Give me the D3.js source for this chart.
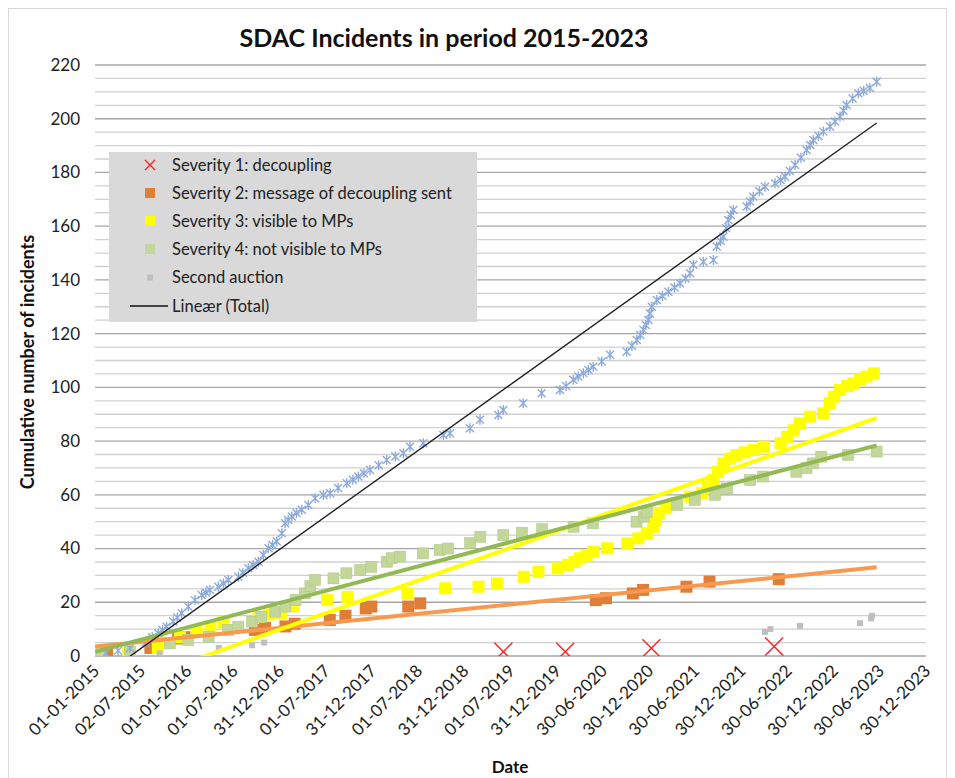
<!DOCTYPE html>
<html><head><meta charset="utf-8">
<script src="https://cdn.jsdelivr.net/npm/d3@7"></script>
<style>body{margin:0;background:#fff;} text{font-family:Lato,"Open Sans",sans-serif;}</style>
</head><body><svg id="c" width="955" height="778"></svg>
<script>
const title = "SDAC Incidents in period 2015-2023";
const yTitle = "Cumulative number of incidents";
const xTitle = "Date";
const xTickLabels = ["01-01-2015","02-07-2015","01-01-2016","01-07-2016","31-12-2016","01-07-2017","31-12-2017","01-07-2018","31-12-2018","01-07-2019","31-12-2019","30-06-2020","30-12-2020","30-06-2021","30-12-2021","30-06-2022","30-12-2022","30-06-2023","30-12-2023"];
const yTickValues = [0,20,40,60,80,100,120,140,160,180,200,220];

// [decimal year, cumulative count]
const sev1 = [[2019.42,1.6],[2020.09,1.6],[2021.02,2.9],[2022.35,3.5]];
const sev2 = [[2015.13,1.5],[2015.60,3],[2015.67,4],[2015.90,6.5],[2015.97,7],[2016.73,9.7],[2016.84,10.5],[2017.06,11],[2017.16,12],[2017.54,13.4],[2017.71,15],[2017.93,17.7],[2017.99,18.4],[2018.39,18.4],[2018.52,19.6],[2020.42,20.8],[2020.53,21.5],[2020.82,23.3],[2020.93,24.6],[2021.40,25.8],[2021.65,27.7],[2022.40,28.6]];
const sev3 = [[2015.36,1],[2015.68,3],[2015.70,5],[2015.92,7],[2016.10,9],[2016.25,11],[2016.39,12.5],[2016.77,14.5],[2016.88,15.5],[2017.02,16],[2017.14,18.5],[2017.51,20.8],[2017.73,22],[2018.38,23.3],[2018.79,25.2],[2019.15,25.8],[2019.35,27],[2019.64,29.5],[2019.80,31.4],[2020.01,32.6],[2020.12,33.9],[2020.19,35],[2020.25,36.4],[2020.32,37.5],[2020.39,38.8],[2020.54,40.1],[2020.76,41.9],[2020.88,43.8],[2020.97,45.7],[2021.04,48.1],[2021.07,50.5],[2021.10,53.1],[2021.18,55],[2021.26,56.8],[2021.44,59.3],[2021.57,60.6],[2021.63,63],[2021.69,65.5],[2021.74,68.5],[2021.80,71.7],[2021.87,73.5],[2021.94,74.8],[2022.03,75.8],[2022.13,76.7],[2022.24,77.9],[2022.42,79.2],[2022.49,81.6],[2022.56,84],[2022.63,86.6],[2022.74,89.1],[2022.88,90.3],[2022.95,94.1],[2023.00,96.5],[2023.06,99.0],[2023.14,100.5],[2023.21,101.5],[2023.28,102.8],[2023.35,104],[2023.43,105.2]];
const sev4 = [[2015.07,1],[2015.38,1.6],[2015.81,4.7],[2016.01,6],[2016.23,7.2],[2016.44,9.7],[2016.55,10.9],[2016.70,12.8],[2016.80,14.6],[2016.95,16.5],[2017.06,18.4],[2017.17,20.8],[2017.27,23.3],[2017.33,26],[2017.38,28.3],[2017.58,28.9],[2017.72,30.8],[2017.87,32],[2017.99,33.2],[2018.16,35.1],[2018.21,36.4],[2018.30,37],[2018.55,38.2],[2018.73,39.5],[2018.82,40],[2019.06,42],[2019.17,44.4],[2019.42,45],[2019.62,45.9],[2019.84,47.2],[2020.18,48.1],[2020.39,49.4],[2020.86,50],[2020.94,51.9],[2020.97,53.7],[2021.30,56.2],[2021.49,58.1],[2021.71,60],[2021.84,62.4],[2022.09,65.5],[2022.23,66.8],[2022.59,68.6],[2022.70,69.9],[2022.77,71.7],[2022.86,74.2],[2023.15,74.8],[2023.46,76.1]];
const secondAuction = [[2015.70,1],[2016.34,3],[2016.70,4],[2016.83,5],[2022.25,9],[2022.31,10],[2022.63,11.2],[2023.28,12.2],[2023.40,14],[2023.41,15]];
const total = [[2015.12,1],[2015.25,2],[2015.38,3],[2015.55,5],[2015.62,7],[2015.685,8.5],[2015.73,9.7],[2015.776,10.9],[2015.847,12.8],[2015.89,14.3],[2015.938,15.9],[2016.010,18.4],[2016.082,20.8],[2016.155,22.7],[2016.20,23.6],[2016.245,24.6],[2016.334,25.8],[2016.39,27],[2016.443,28.3],[2016.551,29.5],[2016.60,31],[2016.659,32.7],[2016.71,33.9],[2016.767,35.1],[2016.821,37.6],[2016.876,40.1],[2016.92,41.3],[2016.966,42.6],[2017.021,45.7],[2017.056,49.4],[2017.09,50.6],[2017.129,51.9],[2017.18,53.2],[2017.237,54.4],[2017.308,56.2],[2017.381,58.7],[2017.471,59.9],[2017.543,60.6],[2017.63,62.5],[2017.724,64.3],[2017.79,65.6],[2017.850,66.8],[2017.91,68],[2017.976,69.2],[2018.07,71],[2018.157,73.0],[2018.25,74.3],[2018.337,75.5],[2018.409,77.9],[2018.553,79.2],[2018.770,82.3],[2018.842,82.9],[2019.058,84.8],[2019.167,87.9],[2019.365,89.7],[2019.419,91.6],[2019.635,94.1],[2019.834,97.8],[2020.033,99.0],[2020.10,100.5],[2020.177,102.8],[2020.23,104],[2020.285,105.3],[2020.34,106.5],[2020.393,107.7],[2020.484,109.6],[2020.574,112.1],[2020.754,113.3],[2020.81,115.5],[2020.863,117.6],[2020.90,119.5],[2020.934,121.4],[2020.96,123.2],[2020.988,125.1],[2021.005,127.5],[2021.025,130.0],[2021.079,132.5],[2021.14,134],[2021.205,135.6],[2021.27,137.2],[2021.331,138.8],[2021.39,140.5],[2021.439,142.5],[2021.475,145.6],[2021.583,146.8],[2021.692,147.4],[2021.728,152.4],[2021.77,154.5],[2021.800,156.1],[2021.83,159.2],[2021.854,162.3],[2021.88,164.2],[2021.908,166.0],[2022.053,167.3],[2022.09,169.2],[2022.124,171.0],[2022.19,173],[2022.251,174.7],[2022.359,176.0],[2022.42,177.2],[2022.468,178.4],[2022.52,180.5],[2022.576,182.8],[2022.64,185.5],[2022.702,188.4],[2022.74,190.2],[2022.774,192.1],[2022.83,193.6],[2022.882,195.2],[2022.955,197.1],[2023.01,199],[2023.063,200.8],[2023.10,203],[2023.135,205.1],[2023.20,207.5],[2023.261,209.5],[2023.32,210.4],[2023.387,211.4],[2023.460,213.8]];
// trendline endpoints [decimal year, value]
const trendSev2 = [[2015.0,3.5],[2023.46,33.0]];
const trendSev3 = [[2015.0,-14.5],[2023.46,88.6]];
const trendSev4 = [[2015.0,1.6],[2023.46,78.4]];
const trendTotal = [[2015.0,-9.4],[2023.46,198.4]];

const legendLabels = ["Severity 1: decoupling","Severity 2: message of decoupling sent","Severity 3: visible to MPs","Severity 4: not visible to MPs","Second auction","Lineær (Total)"];

function yd(v){const Y=Math.floor(v);const s=Date.UTC(Y,0,1),e=Date.UTC(Y+1,0,1);return new Date(s+(v-Y)*(e-s));}
const parse = d3.utcParse("%d-%m-%Y");

const svg = d3.select("#c");
const L=95,R=926,T=65,B=656;
const x = d3.scaleUtc().domain([parse("01-01-2015"), parse("30-12-2023")]).range([L,R]);
const y = d3.scaleLinear().domain([0,220]).range([B,T]);

svg.append("rect").attr("x",8.5).attr("y",8.5).attr("width",938).attr("height",800).attr("fill","#fff").attr("stroke","#d9d9d9");

// gridlines
const minor = d3.range(0,221,5).filter(v=>v%20!==0);
svg.append("g").selectAll("line").data(minor).join("line")
  .attr("x1",L).attr("x2",R).attr("y1",d=>y(d)).attr("y2",d=>y(d))
  .attr("stroke","#d0d0d0").attr("stroke-width",1.3);
svg.append("g").selectAll("line").data(yTickValues).join("line")
  .attr("x1",L).attr("x2",R).attr("y1",d=>y(d)).attr("y2",d=>y(d))
  .attr("stroke","#a6a6a6").attr("stroke-width",1.3);

// y axis labels
const yAxis = d3.axisLeft(y).tickValues(yTickValues).tickSize(0).tickPadding(15);
const gy = svg.append("g").attr("transform",`translate(${L},0)`).call(yAxis);
gy.select(".domain").remove();
gy.selectAll("text").attr("font-size",17).attr("fill","#222").attr("font-family","Lato");

// x axis labels
const xAxis = d3.axisBottom(x).tickValues(xTickLabels.map(parse)).tickFormat(d3.utcFormat("%d-%m-%Y")).tickSize(0);
const gx = svg.append("g").attr("transform",`translate(0,${B})`).call(xAxis);
gx.select(".domain").remove();
gx.selectAll("text").attr("font-size",17).attr("fill","#222").attr("font-family","Lato")
  .attr("text-anchor","end").attr("dy",0).attr("y",0)
  .attr("transform","translate(5,16) rotate(-45)");

svg.append("defs").append("clipPath").attr("id","pc").append("rect").attr("x",L).attr("y",T).attr("width",R-L).attr("height",B-T);

const plot = svg.append("g").attr("clip-path","url(#pc)");
function squares(data,size,fill,stroke){
  plot.append("g").selectAll("rect").data(data).join("rect")
    .attr("x",d=>x(yd(d[0]))-size/2).attr("y",d=>y(d[1])-size/2)
    .attr("width",size).attr("height",size).attr("fill",fill).attr("stroke",stroke||"none").attr("stroke-width",0.6);
}
squares(sev2,12,"#df7e37");
squares(sev3,12,"#ffff00");
squares(sev4,11,"#c4d79b","#b3c98a");
squares(secondAuction,6,"#bfbfbf");

const starPath = "M-4,-4L4,4M-4,4L4,-4M0,-5L0,5";
plot.append("g").selectAll("path").data(total).join("path")
  .attr("transform",d=>`translate(${x(yd(d[0]))},${y(d[1])})`)
  .attr("d",starPath).attr("stroke","#8eaadb").attr("stroke-width",1.4).attr("fill","none");

const xPath = "M-9,-9L9,9M-9,9L9,-9";
plot.append("g").selectAll("path").data(sev1).join("path")
  .attr("transform",d=>`translate(${x(yd(d[0]))},${y(d[1])})`)
  .attr("d",xPath).attr("stroke","#ff2020").attr("stroke-width",1.4).attr("fill","none");

const line = d3.line().x(d=>x(yd(d[0]))).y(d=>y(d[1]));
function trend(data,color,w){plot.append("path").datum(data).attr("d",line).attr("stroke",color).attr("stroke-width",w).attr("fill","none");}
trend(trendSev2,"#f79a4f",4);
trend(trendSev3,"#ffff00",4);
trend(trendSev4,"#93b955",4);
trend(trendTotal,"#222",1.4);

// titles
svg.append("text").attr("x",444).attr("y",47).attr("text-anchor","middle").attr("font-weight","bold").attr("font-size",25).attr("fill","#111").text(title);
svg.append("text").attr("transform","translate(34,362) rotate(-90)").attr("text-anchor","middle").attr("font-weight","bold").attr("font-size",18).attr("fill","#111").text(yTitle);
svg.append("text").attr("x",510).attr("y",773).attr("text-anchor","middle").attr("font-weight","bold").attr("font-size",17).attr("fill","#111").text(xTitle);

// legend
const lg = svg.append("g");
lg.append("rect").attr("x",109).attr("y",152).attr("width",368).attr("height",170).attr("fill","#d9d9d9");
const ly = [165,193,221,249,277.5,306];
legendLabels.forEach((t,i)=>{
  lg.append("text").attr("x",172).attr("y",ly[i]).attr("dy","0.35em").attr("font-size",16.5).attr("fill","#222").text(t);
});
lg.append("path").attr("transform",`translate(150,${ly[0]})`).attr("d","M-5,-5L5,5M-5,5L5,-5").attr("stroke","#ff2020").attr("stroke-width",1.4);
[["#df7e37",10],["#ffff00",10],["#c4d79b",10],["#bfbfbf",6]].forEach((m,i)=>{
  lg.append("rect").attr("x",150-m[1]/2).attr("y",ly[i+1]-m[1]/2).attr("width",m[1]).attr("height",m[1]).attr("fill",m[0]);
});
lg.append("line").attr("x1",130).attr("x2",168).attr("y1",ly[5]).attr("y2",ly[5]).attr("stroke","#111").attr("stroke-width",1.4);
</script></body></html>
